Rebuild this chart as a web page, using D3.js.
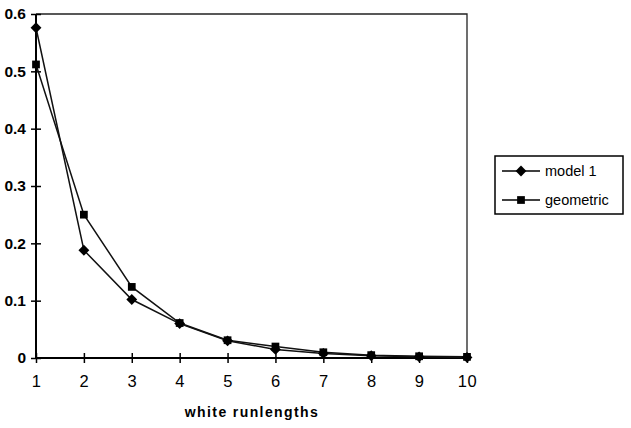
<!DOCTYPE html>
<html>
<head>
<meta charset="utf-8">
<script src="https://cdn.jsdelivr.net/npm/d3@7"></script>
<style>
  body { margin: 0; background: #fff; }
  text { font-family: "Liberation Sans", Arial, sans-serif; fill: #000; }
</style>
</head>
<body>
<div id="chart"></div>
<script>
// data
const runlengths = [1, 2, 3, 4, 5, 6, 7, 8, 9, 10];
const model1 = [0.576, 0.188, 0.102, 0.06, 0.03, 0.015, 0.008, 0.004, 0.002, 0.001];
const geometric = [0.512, 0.25, 0.124, 0.061, 0.031, 0.02, 0.01, 0.005, 0.003, 0.002];
const yTicks = [0, 0.1, 0.2, 0.3, 0.4, 0.5, 0.6];
const seriesNames = ["model 1", "geometric"];

const W = 631, H = 428;
const svg = d3.select("#chart").append("svg").attr("width", W).attr("height", H);

const x = d3.scaleLinear().domain([1, 10]).range([36, 467]);
const y = d3.scaleLinear().domain([0, 0.6]).range([358, 14]);

// frame (top, right)
svg.append("path")
  .attr("d", `M${x(1)},${y(0.6)}H${x(10)}V${y(0)}`)
  .attr("fill", "none").attr("stroke", "#222").attr("stroke-width", 1.3);

// y axis
const yAxis = svg.append("g").attr("transform", `translate(${x(1)},0)`)
  .call(d3.axisLeft(y).tickValues(yTicks).tickSize(5).tickPadding(7)
    .tickFormat(d => d === 0 ? "0" : d3.format(".1f")(d)));
yAxis.selectAll(".tick line").attr("x2", 5).attr("x1", -5);
// x axis
const xAxis = svg.append("g").attr("transform", `translate(0,${y(0)})`)
  .call(d3.axisBottom(x).tickValues(runlengths).tickSize(5).tickPadding(12).tickFormat(d3.format("d")));
xAxis.selectAll(".tick line").attr("y1", -5).attr("y2", 5);

[yAxis, xAxis].forEach(g => {
  g.attr("font-family", "'Liberation Sans', Arial, sans-serif");
  g.select(".domain").attr("stroke", "#000").attr("stroke-width", 2);
  g.selectAll(".tick line").attr("stroke", "#000").attr("stroke-width", 1.5);
});
yAxis.attr("font-size", 15.5);
xAxis.attr("font-size", 16.5);
yAxis.selectAll("text").attr("font-weight", "bold").attr("x", -10);
xAxis.selectAll("text").attr("letter-spacing", 0.5);
yAxis.select(".domain").attr("d", `M0,${y(0)}V${y(0.6)}`);
xAxis.select(".domain").attr("d", `M${x(1)},0H${x(10)}`);

svg.append("text").attr("x", 252).attr("y", 417).attr("text-anchor", "middle")
  .attr("font-size", 14).attr("font-weight", "bold").attr("letter-spacing", 1.4)
  .text("white runlengths");

const line = d3.line().x((d, i) => x(runlengths[i])).y(d => y(d));
const diamond = d3.symbol().type(d3.symbolDiamond2).size(75);
const square = d3.symbol().type(d3.symbolSquare).size(60);

[[geometric, square], [model1, diamond]].forEach(([vals, sym]) => {
  svg.append("path").datum(vals).attr("d", line)
    .attr("fill", "none").attr("stroke", "#111").attr("stroke-width", 1.5);
  svg.selectAll(null).data(vals).enter().append("path")
    .attr("d", sym)
    .attr("transform", (d, i) => `translate(${x(runlengths[i])},${y(d)})`)
    .attr("fill", "#000");
});

// legend
const lg = svg.append("g");
lg.append("rect").attr("x", 495).attr("y", 156).attr("width", 128).attr("height", 58)
  .attr("fill", "#fff").attr("stroke", "#000").attr("stroke-width", 1.5);
[diamond, square].forEach((sym, i) => {
  const yy = 171 + i * 29;
  lg.append("line").attr("x1", 502).attr("x2", 540).attr("y1", yy).attr("y2", yy)
    .attr("stroke", "#000").attr("stroke-width", 1.5);
  lg.append("path").attr("d", sym).attr("transform", `translate(521,${yy})`).attr("fill", "#000");
  lg.append("text").attr("x", 545).attr("y", yy + 5).attr("font-size", 14.5).text(seriesNames[i]);
});
</script>
</body>
</html>
